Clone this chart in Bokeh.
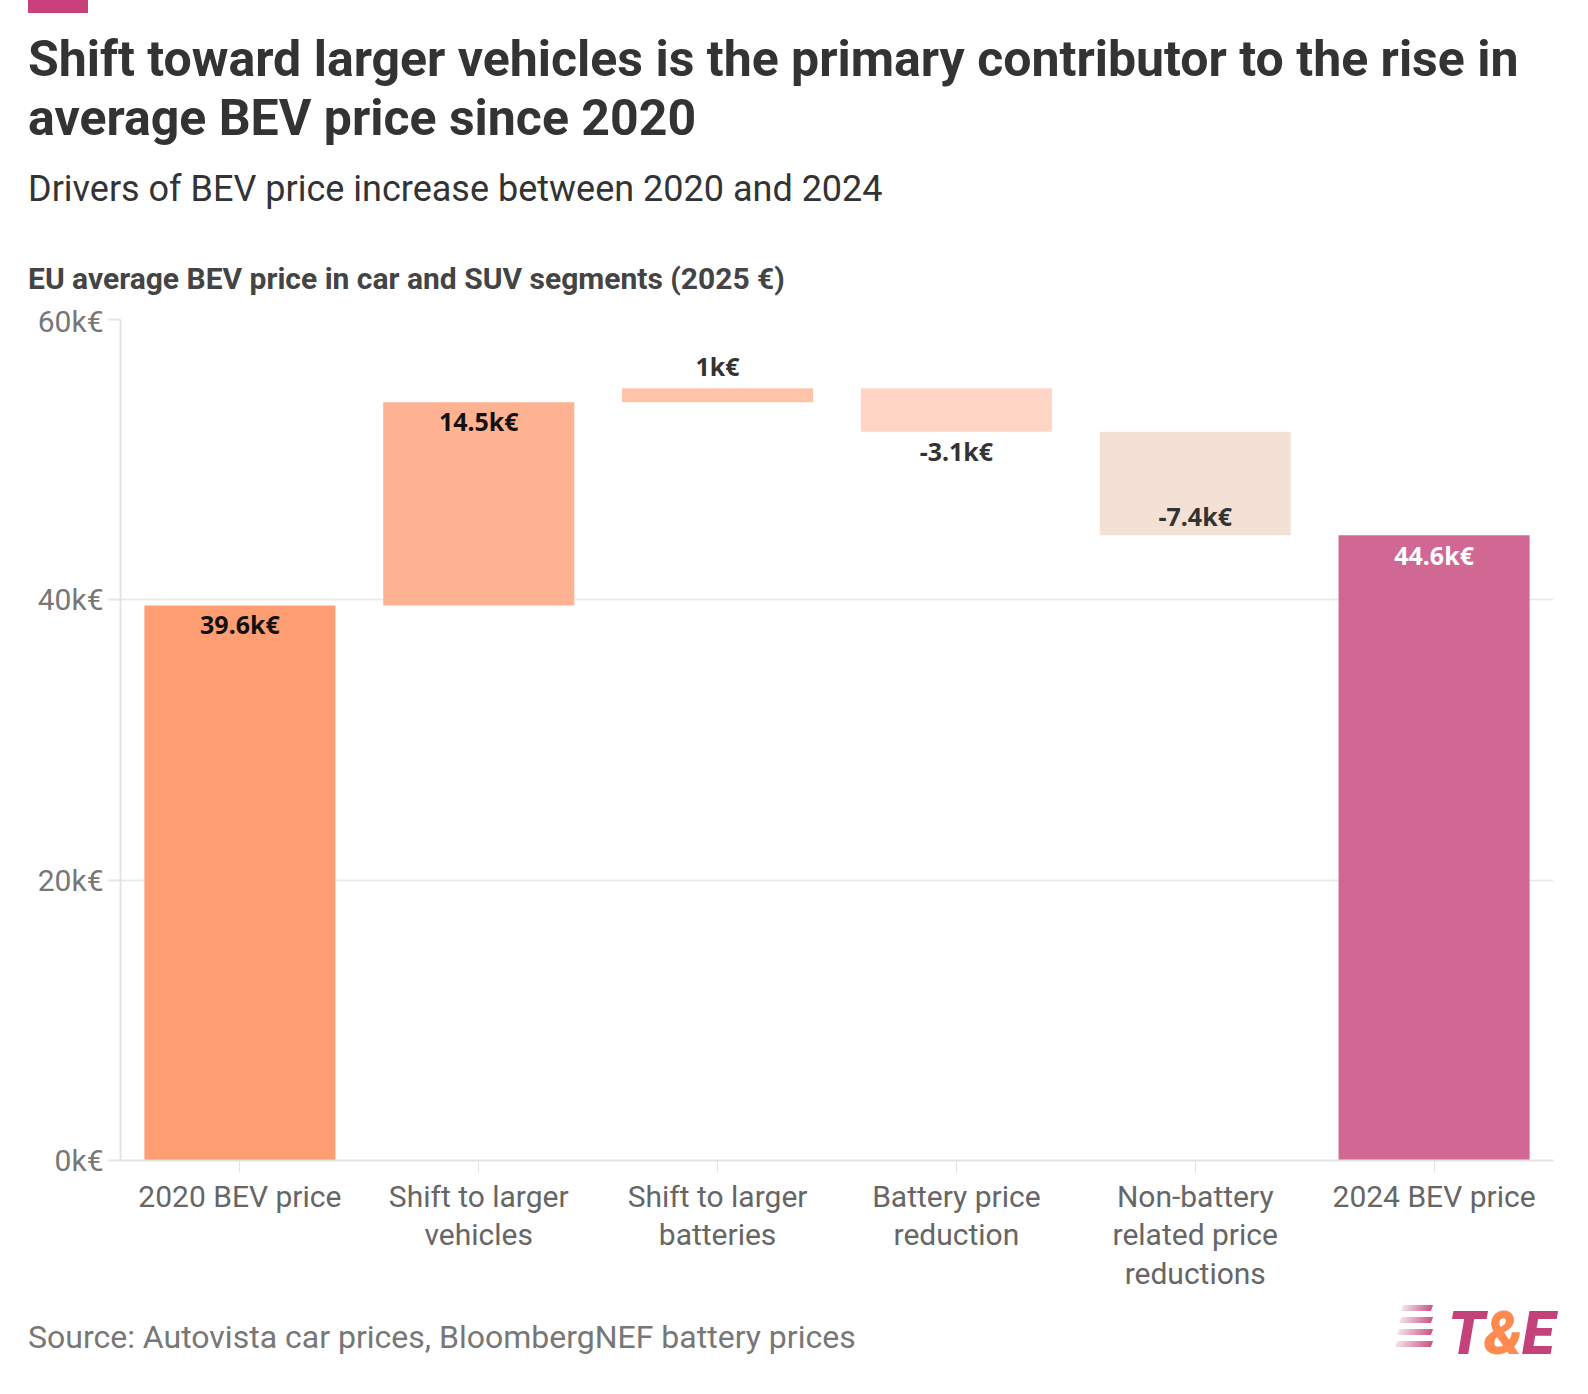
from bokeh.plotting import figure
from bokeh.models import Range1d, FixedTicker, Label, ColumnDataSource, Div
from bokeh.layouts import column
from bokeh.embed import file_html
from bokeh.resources import INLINE

categories = ["2020 BEV price", "Shift to larger\nvehicles", "Shift to larger\nbatteries",
              "Battery price\nreduction", "Non-battery\nrelated price\nreductions", "2024 BEV price"]
changes = [39.6, 14.5, 1.0, -3.1, -7.4]
final_value = 44.6
value_labels = ["39.6k€", "14.5k€", "1k€", "-3.1k€", "-7.4k€", "44.6k€"]
colors = ["#ff9e73", "#ffb291", "#ffc4a8", "#ffd6c5", "#f2e1d4", "#d06893"]
y_ticks = [0, 20, 40, 60]

bottoms, tops = [], []
run = 0.0
for c in changes:
    nb = run
    run += c
    bottoms.append(min(nb, run)); tops.append(max(nb, run))
bottoms.append(0); tops.append(final_value)
xs = [i + 0.5 for i in range(len(categories))]

W = 1565
header = Div(width=W, height=295, styles={"margin": "0", "padding": "0"}, text="""
<div style="position:relative;width:1565px;height:295px;font-family:Roboto;color:#333">
 <div style="position:absolute;left:20px;top:-8px;width:60px;height:13px;background:#c8417a"></div>
 <div style="position:absolute;left:20px;top:22px;font-size:50px;font-weight:bold;line-height:59px;width:1530px">Shift toward larger vehicles is the primary contributor to the rise in average BEV price since 2020</div>
 <div style="position:absolute;left:20px;top:156px;font-size:36px;">Drivers of BEV price increase between 2020 and 2024</div>
 <div style="position:absolute;left:20px;top:250px;font-size:30px;font-weight:bold;color:#444">EU average BEV price in car and SUV segments (2025 €)</div>
</div>""")

p = figure(width=W, height=990, output_backend="svg", toolbar_location=None,
           x_range=Range1d(0, 6), y_range=Range1d(0, 60),
           min_border_left=112, min_border_right=20, min_border_top=16, min_border_bottom=130)
p.outline_line_color = None

src = ColumnDataSource(dict(x=xs, b=bottoms, t=tops, c=colors))
p.vbar(x="x", bottom="b", top="t", width=0.8, fill_color="c", line_color=None, source=src)

p.xaxis.ticker = FixedTicker(ticks=xs)
p.xaxis.major_label_overrides = {x: c for x, c in zip(xs, categories)}
p.xaxis.major_label_text_font = "Roboto"
p.xaxis.major_label_text_font_size = "30px"
p.xaxis.major_label_text_color = "#666666"
p.xaxis.major_label_standoff = 6
p.xaxis.major_label_text_line_height = 1.1
p.xaxis.axis_line_color = "#e3e3e3"
p.xaxis.axis_line_width = 2
p.xaxis.major_tick_line_color = "#e3e3e3"
p.xaxis.major_tick_in = 0
p.xaxis.major_tick_out = 12
p.xaxis.minor_tick_line_color = None
p.xgrid.grid_line_color = None

p.yaxis.ticker = FixedTicker(ticks=y_ticks)
p.yaxis.major_label_overrides = {v: f"{v}k€" for v in y_ticks}
p.yaxis.major_label_text_font = "Roboto"
p.yaxis.major_label_text_font_size = "30px"
p.yaxis.major_label_text_color = "#777777"
p.yaxis.axis_line_color = "#e3e3e3"
p.yaxis.axis_line_width = 2
p.yaxis.major_tick_line_color = "#e6e6e6"
p.yaxis.major_tick_line_width = 2
p.yaxis.major_tick_in = 0
p.yaxis.major_tick_out = 12
p.yaxis.minor_tick_line_color = None
p.ygrid.grid_line_color = "#ebebeb"
p.ygrid.grid_line_width = 2

PX_Y = 60 / 829.0
val_pos = [(616, "#111111"), (416, "#111111"), (362, "#333333"), (446, "#333333"), (510, "#333333"), (548, "#ffffff")]
for i, (py, col) in enumerate(val_pos):
    p.add_layout(Label(x=xs[i], y=(1145 - py) * PX_Y, text=value_labels[i], text_font="Noto Sans",
                       text_font_size="25px", text_font_style="bold", text_color=col,
                       text_align="center", text_baseline="middle"))

stripes = "".join(
    f'<div style="position:absolute;left:{1394 - 2*k}px;top:{12 + 12*k}px;width:{30 + 2*k}px;height:6px;'
    f'transform:skewX(-20deg);background:linear-gradient(to right, rgba(196,66,122,0.15), rgba(196,66,122,0.9))"></div>'
    for k in range(4))
footer = Div(width=W, height=66, styles={"margin": "0", "padding": "0"}, text=f"""
<div style="position:relative;width:1565px;height:66px;font-family:Roboto">
 <div style="position:absolute;left:20px;top:22px;font-size:32px;color:#777">Source: Autovista car prices, BloombergNEF battery prices</div>
 {stripes}
 <div style="position:absolute;left:1440px;top:-2px;font-size:60px;font-weight:900;font-style:italic;color:#c4427a;letter-spacing:-1px">T<span style="color:#ff8a50">&amp;</span>E</div>
</div>""")

layout = column(header, p, footer, spacing=0, styles={"margin-left": "8px", "margin-top": "8px"})
open("out.html", "w").write(file_html(layout, INLINE))
